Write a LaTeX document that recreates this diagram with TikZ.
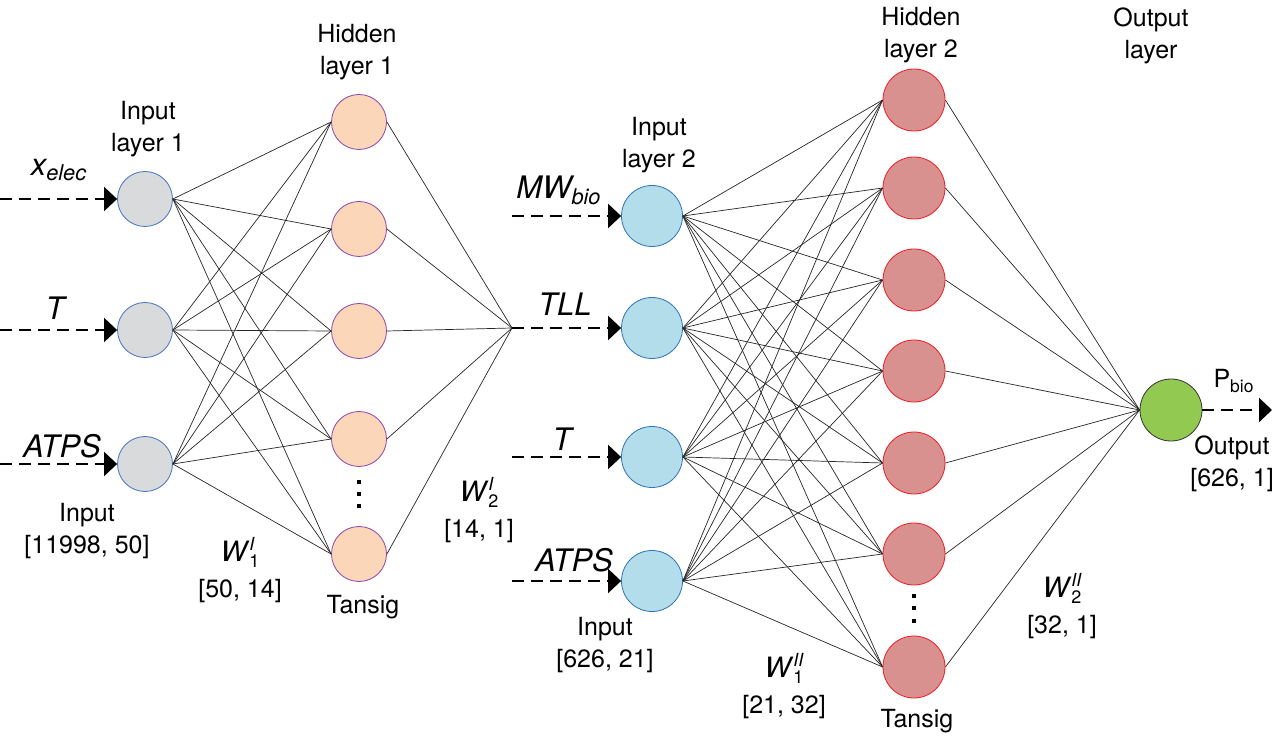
\documentclass[tikz,border=0pt]{standalone}
\usepackage{fontspec}
\setmainfont{TeX Gyre Heros}
\usepackage{tikz}
\usetikzlibrary{positioning,arrows.meta}
\definecolor{inGray}{HTML}{D9DADB}
\definecolor{inBlue}{HTML}{4472C4}
\definecolor{hidPeach}{HTML}{FBD6B8}
\definecolor{hidPurple}{HTML}{8E44AD}
\definecolor{inCyan}{HTML}{B3DDEA}
\definecolor{inCyanLine}{HTML}{2E75B6}
\definecolor{hidRose}{HTML}{D9918F}
\definecolor{hidRed}{HTML}{ED1C24}
\definecolor{outGreen}{HTML}{92C950}
\tikzset{Neuron/.style={%
    shape=circle,%
    line width=0.4pt,%
    inner sep=0pt,%
    minimum size=27.5pt,%
}}
\tikzset{InputOne/.style={Neuron, draw=inBlue, fill=inGray}}
\tikzset{HiddenOne/.style={Neuron, draw=hidPurple, fill=hidPeach}}
\tikzset{InputTwo/.style={Neuron, draw=inCyanLine, fill=inCyan, minimum size=30.5pt}}
\tikzset{HiddenTwo/.style={Neuron, draw=hidRed, fill=hidRose, minimum size=31pt}}
\tikzset{OutputNeuron/.style={Neuron, draw=black!80, fill=outGreen, minimum size=31pt}}
\tikzset{WeightEdge/.style={%
    draw=black!85,%
    line width=0.35pt,%
}}
\tikzset{FeedEdge/.style={%
    dash pattern=on 6pt off 3.5pt,%
    line width=1pt,%
    -{Triangle[length=6.5pt,width=12pt]},%
}}
\tikzset{Caption/.style={align=center, inner sep=0pt, font=\fontsize{12.5}{16}\selectfont}}
\tikzset{VarLabel/.style={inner sep=0pt, font=\fontsize{15.5}{18}\selectfont\itshape}}
\NewDocumentCommand{\weightLabel}{m m}{%
    {\fontsize{14}{16}\selectfont\textit{W}%
    \rlap{\raisebox{0.42em}{\fontsize{9}{9}\selectfont\textit{#2}}}%
    \raisebox{-0.22em}{\fontsize{9}{9}\selectfont #1}}%
}

\begin{document}
\begin{tikzpicture}[x=0.5pt, y=-0.5pt]
    \useasboundingbox (0,0) rectangle (1280,737);

    % input layer 1
    \node[InputOne] (a1) at (145,199) {};
    \node[InputOne] (a2) at (145,330) {};
    \node[InputOne] (a3) at (145,464) {};

    % hidden layer 1
    \node[HiddenOne] (b1) at (359,122) {};
    \node[HiddenOne] (b2) at (359,229) {};
    \node[HiddenOne] (b3) at (359,331) {};
    \node[HiddenOne] (b4) at (359,439) {};
    \node[HiddenOne] (b5) at (359,554) {};
    \coordinate (join) at (512,328);

    % input layer 2
    \node[InputTwo] (c1) at (652,216) {};
    \node[InputTwo] (c2) at (652,328) {};
    \node[InputTwo] (c3) at (652,457) {};
    \node[InputTwo] (c4) at (652,581) {};

    % hidden layer 2
    \node[HiddenTwo] (d1) at (914,100) {};
    \node[HiddenTwo] (d2) at (914,188) {};
    \node[HiddenTwo] (d3) at (914,280) {};
    \node[HiddenTwo] (d4) at (914,371) {};
    \node[HiddenTwo] (d5) at (914,463) {};
    \node[HiddenTwo] (d6) at (914,554) {};
    \node[HiddenTwo] (d7) at (914,667) {};

    % output
    \node[OutputNeuron] (out) at (1171,410) {};

    % weights
    \foreach \i in {1,2,3}
        \foreach \j in {1,...,5}
            \draw[WeightEdge] (a\i.east) -- (b\j.west);
    \foreach \j in {1,...,5}
        \draw[WeightEdge] (b\j.east) -- (join);
    \foreach \i in {1,...,4}
        \foreach \j in {1,...,7}
            \draw[WeightEdge] (c\i.east) -- (d\j.west);
    \foreach \j in {1,...,7}
        \draw[WeightEdge] (d\j.east) -- (out.west);

    % dashed inputs
    \coordinate (s1) at (0,199);
    \coordinate (s2) at (0,330);
    \coordinate (s3) at (0,464);
    \coordinate (t1) at (512,216);
    \coordinate (t3) at (512,457);
    \coordinate (t4) at (512,581);
    \coordinate (pEnd) at (1272,410);
    \draw[FeedEdge] (s1) -- (a1.west);
    \draw[FeedEdge] (s2) -- (a2.west);
    \draw[FeedEdge] (s3) -- (a3.west);
    \draw[FeedEdge] (t1) -- (c1.west);
    \draw[FeedEdge] (join) -- (c2.west);
    \draw[FeedEdge] (t3) -- (c3.west);
    \draw[FeedEdge] (t4) -- (c4.west);
    \draw[FeedEdge] (out.east) -- (pEnd);

    % dots
    \foreach \y in {482,494,506}
        \fill (359-2,\y-2) rectangle ++(4,4);
    \foreach \y in {596,608,621}
        \fill (914-2,\y-2) rectangle ++(4,4);

    % layer captions
    \node[Caption] (capA) at (148,129) {Input\\layer 1};
    \node[Caption] (capB) at (357,52) {Hidden\\layer 1};
    \node[Caption] (capC) at (659,145) {Input\\layer 2};
    \node[Caption] (capD) at (921,35) {Hidden\\layer 2};
    \node[Caption] (capE) at (1151,36) {Output\\layer};

    % variables
    \node[VarLabel] (vx) at (59,170) {x\textsubscript{elec}};
    \node[VarLabel] (vt) at (55,308) {T};
    \node[VarLabel] (va) at (62,446) {ATPS};
    \node[VarLabel] (vm) at (559,190) {MW\textsubscript{bio}};
    \node[VarLabel] (vl) at (565,304) {TLL};
    \node[VarLabel] (vt2) at (562,439) {T};
    \node[VarLabel] (va2) at (574,560) {ATPS};
    \node[Caption] (vp) at (1234,381) {P\textsubscript{bio}};

    % sizes
    \node[Caption] (sizeA) at (87,531) {Input\\{}[11998, 50]};
    \node[Caption] (sizeC) at (605,645) {Input\\{}[626, 21]};
    \node[Caption] (sizeO) at (1232,464) {Output\\{}[626, 1]};
    \node[Caption] (tanB) at (363,607) {Tansig};
    \node[Caption] (tanD) at (917,721) {Tansig};
    \node[Caption] (wA) at (240,570) {\weightLabel{1}{I}\\[2pt]{}[50, 14]};
    \node[Caption] (wB) at (479,510) {\weightLabel{2}{I}\\[2pt]{}[14, 1]};
    \node[Caption] (wC) at (784,686) {\weightLabel{1}{II}\\[2pt]{}[21, 32]};
    \node[Caption] (wD) at (1062,606) {\weightLabel{2}{II}\\[2pt]{}[32, 1]};
\end{tikzpicture}
\end{document}
